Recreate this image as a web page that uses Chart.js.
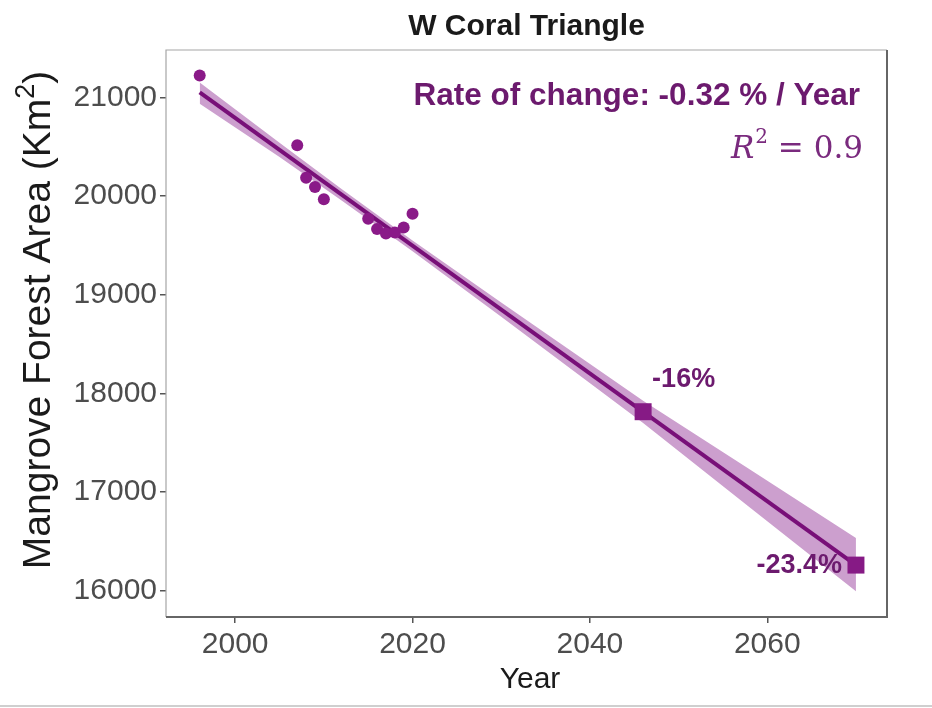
<!DOCTYPE html>
<html lang="en">
<head>
  <meta charset="UTF-8" />
  <title>W Coral Triangle</title>
  <script src="https://cdn.jsdelivr.net/npm/chart.js"></script>
  <style>
    body { margin: 0; background: #fff; }
    #wrap { width: 932px; height: 708px; }
  </style>
</head>
<body>
  <div id="wrap">
    <canvas id="mangroveChart" width="932" height="708"></canvas>
  </div>

  <script>
    // observed mangrove area (km2)
    const years = [1996, 2007, 2008, 2009, 2010, 2015, 2016, 2017, 2018, 2019, 2020];
    const areas = [21220, 20514, 20185, 20091, 19967, 19770, 19665, 19620, 19630, 19680, 19820];

    // fitted trend line
    const fitYears = [1996, 2070];
    const fitAreas = [21050, 16260];

    // confidence band
    const bandYears = [1996, 2005, 2012, 2020, 2030, 2046, 2058, 2070];
    const bandUpper = [21150, 20540, 20070, 19550, 18920, 17925, 17230, 16535];
    const bandLower = [20935, 20395, 19955, 19440, 18775, 17700, 16845, 15995];

    // projections
    const projYears = [2046, 2070];
    const projAreas = [17814, 16260];
    const projLabels = ["-16%", "-23.4%"];

    const xTicks = [2000, 2020, 2040, 2060];
    const yTicks = [16000, 17000, 18000, 19000, 20000, 21000];

    const chartTitle = "W Coral Triangle";
    const rateText = "Rate of change: -0.32 % / Year";
    const xTitle = "Year";

    const pts = (xs, ys) => xs.map((x, i) => ({ x: x, y: ys[i] }));

    const purple = "#8a1a88";
    const darkPurple = "#6c1a6e";
    const FONT = '"Liberation Sans", Arial, sans-serif';

    // texts, titles and frame
    const decorations = {
      id: "decorations",
      afterDraw(chart) {
        const ctx = chart.ctx;
        const a = chart.chartArea;
        const sx = chart.scales.x, sy = chart.scales.y;
        ctx.save();

        // panel frame
        ctx.strokeStyle = "#a6a6a6";
        ctx.lineWidth = 1.2;
        ctx.beginPath();
        ctx.moveTo(a.left, a.bottom);
        ctx.lineTo(a.left, a.top);
        ctx.lineTo(a.right, a.top);
        ctx.stroke();
        ctx.strokeStyle = "#666";
        ctx.lineWidth = 2;
        ctx.beginPath();
        ctx.moveTo(a.left, a.bottom);
        ctx.lineTo(a.right, a.bottom);
        ctx.lineTo(a.right, a.top);
        ctx.stroke();

        // bottom strip line
        ctx.strokeStyle = "#cfcfcf";
        ctx.lineWidth = 2;
        ctx.beginPath();
        ctx.moveTo(0, 706);
        ctx.lineTo(932, 706);
        ctx.stroke();

        // title
        ctx.fillStyle = "#1a1a1a";
        ctx.textAlign = "center";
        ctx.textBaseline = "alphabetic";
        ctx.font = "bold 30px " + FONT;
        ctx.fillText(chartTitle, (a.left + a.right) / 2, 35);

        // x title
        ctx.font = "30px " + FONT;
        ctx.fillText(xTitle, 530, 688);

        // y title with superscript
        ctx.save();
        ctx.translate(50, 320);
        ctx.rotate(-Math.PI / 2);
        ctx.textAlign = "left";
        const big = "39px " + FONT, small = "27px " + FONT;
        ctx.font = big;
        const p1 = "Mangrove Forest Area (Km", p3 = ")";
        const w1 = ctx.measureText(p1).width, w3 = ctx.measureText(p3).width;
        ctx.font = small;
        const w2 = ctx.measureText("2").width;
        let x0 = -(w1 + w2 + w3) / 2;
        ctx.font = big;
        ctx.fillText(p1, x0, 0);
        ctx.font = small;
        ctx.fillText("2", x0 + w1, -16);
        ctx.font = big;
        ctx.fillText(p3, x0 + w1 + w2, 0);
        ctx.restore();

        // rate of change
        ctx.fillStyle = darkPurple;
        ctx.textAlign = "right";
        ctx.font = "bold 31.5px " + FONT;
        ctx.fillText(rateText, 860, 105);

        // R^2
        ctx.fillStyle = "#7a2a7e";
        const serif = '"DejaVu Serif", "Liberation Serif", serif';
        ctx.font = "31px " + serif;
        const eq = " = 0.9";
        const wEq = ctx.measureText(eq).width;
        ctx.fillText(eq, 863, 158);
        ctx.font = "20px " + serif;
        const wSup = ctx.measureText("2").width;
        ctx.fillText("2", 863 - wEq, 143);
        ctx.font = "italic 31px " + serif;
        ctx.fillText("R", 863 - wEq - wSup - 1, 158);

        // projection labels
        ctx.fillStyle = darkPurple;
        ctx.font = "bold 27px " + FONT;
        const px0 = sx.getPixelForValue(projYears[0]), py0 = sy.getPixelForValue(projAreas[0]);
        ctx.textAlign = "left";
        ctx.fillText(projLabels[0], px0 + 9, py0 - 25);
        const px1 = sx.getPixelForValue(projYears[1]), py1 = sy.getPixelForValue(projAreas[1]);
        ctx.textAlign = "right";
        ctx.fillText(projLabels[1], px1 - 14, py1 + 8);

        ctx.restore();
      }
    };

    const ctx = document.getElementById("mangroveChart").getContext("2d");
    new Chart(ctx, {
      type: "scatter",
      data: {
        datasets: [
          {
            label: "observed",
            data: pts(years, areas),
            pointRadius: 6,
            pointBackgroundColor: purple,
            pointBorderWidth: 0,
            order: 0
          },
          {
            label: "projection",
            data: pts(projYears, projAreas),
            pointStyle: "rect",
            pointRadius: 12,
            pointBackgroundColor: "#861a85",
            pointBorderWidth: 0,
            order: 0
          },
          {
            label: "trend",
            type: "line",
            data: pts(fitYears, fitAreas),
            borderColor: "#780f78",
            borderWidth: 4,
            pointRadius: 0,
            fill: false,
            order: 1
          },
          {
            label: "upper",
            type: "line",
            data: pts(bandYears, bandUpper),
            borderWidth: 0,
            pointRadius: 0,
            fill: false,
            order: 2
          },
          {
            label: "lower",
            type: "line",
            data: pts(bandYears, bandLower),
            borderWidth: 0,
            pointRadius: 0,
            backgroundColor: "#cc9fce",
            fill: "-1",
            order: 3
          }
        ]
      },
      options: {
        responsive: false,
        animation: false,
        layout: { padding: { top: 50, right: 45, left: 0, bottom: 0 } },
        plugins: {
          legend: { display: false },
          tooltip: { enabled: false },
          title: { display: false }
        },
        scales: {
          x: {
            type: "linear",
            min: 1992.2,
            max: 2073.5,
            afterBuildTicks: s => { s.ticks = xTicks.map(v => ({ value: v })); },
            afterFit: s => { s.height = 91; },
            grid: { drawOnChartArea: false, tickLength: 6, color: "#555", lineWidth: 1.5 },
            border: { display: false },
            ticks: {
              padding: 4,
              color: "#4d4d4d",
              font: { family: FONT, size: 30 },
              callback: v => String(v)
            }
          },
          y: {
            type: "linear",
            min: 15734,
            max: 21479,
            afterBuildTicks: s => { s.ticks = yTicks.map(v => ({ value: v })); },
            afterFit: s => { s.width = 166; },
            grid: { drawOnChartArea: false, tickLength: 6, color: "#555", lineWidth: 1.5 },
            border: { display: false },
            ticks: {
              padding: 3,
              color: "#4d4d4d",
              font: { family: FONT, size: 30 },
              callback: v => String(v)
            }
          }
        }
      },
      plugins: [decorations]
    });
  </script>
</body>
</html>
